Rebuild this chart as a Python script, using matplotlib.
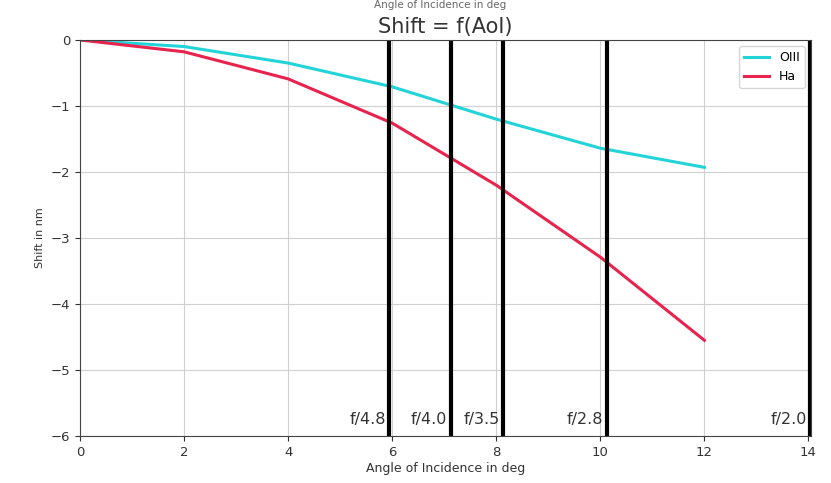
import matplotlib.pyplot as plt
import numpy as np

aoi = [0, 2, 4, 6, 8, 10, 12]
shift_oiii = [0, -0.1, -0.35, -0.71, -1.2, -1.64, -1.93]
shift_ha = [0, -0.18, -0.59, -1.26, -2.2, -3.29, -4.55]

f_numbers = [4.8, 4.0, 3.5, 2.8, 2.0]
f_labels = ['f/4.8', 'f/4.0', 'f/3.5', 'f/2.8', 'f/2.0']

fig = plt.figure(figsize=(8.31, 4.83), dpi=100)
ax = fig.add_axes([0.0963, 0.0973, 0.8797, 0.82])

ax.plot(aoi, shift_oiii, color='#22d3d8', linewidth=2.2, label='OIII')
ax.plot(aoi, shift_ha, color='#e8234e', linewidth=2.2, label='Ha')

# half-angle of the light cone for each focal ratio
for n, lab in zip(f_numbers, f_labels):
    ang = np.degrees(np.arctan(1 / (2 * n)))
    ax.axvline(ang, color='black', linewidth=3)
    ax.text(ang - 0.07, -5.75, lab, ha='right', va='center', fontsize=11.5, color='#333333')

ax.set_xlim(0, 14.05)
ax.set_ylim(-6, 0)
ax.set_xticks(range(0, 15, 2))
ax.grid(True, color='#d0d0d0')
ax.tick_params(labelsize=9.5, colors='#333333')
for s in ax.spines.values():
    s.set_color('#444444')
ax.set_xlabel('Angle of Incidence in deg', fontsize=9, color='#333333', labelpad=2)
ax.set_ylabel('Shift in nm', fontsize=8, color='#333333')
ax.set_title('Shift = f(AoI)', fontsize=15, color='#333333', pad=5)
ax.legend(loc='upper right', fontsize=9)

fig.text(0.53, 0.999, 'Angle of Incidence in deg', ha='center', va='top', fontsize=7.5, color='#666666')

fig.savefig('out.png', dpi=100)
